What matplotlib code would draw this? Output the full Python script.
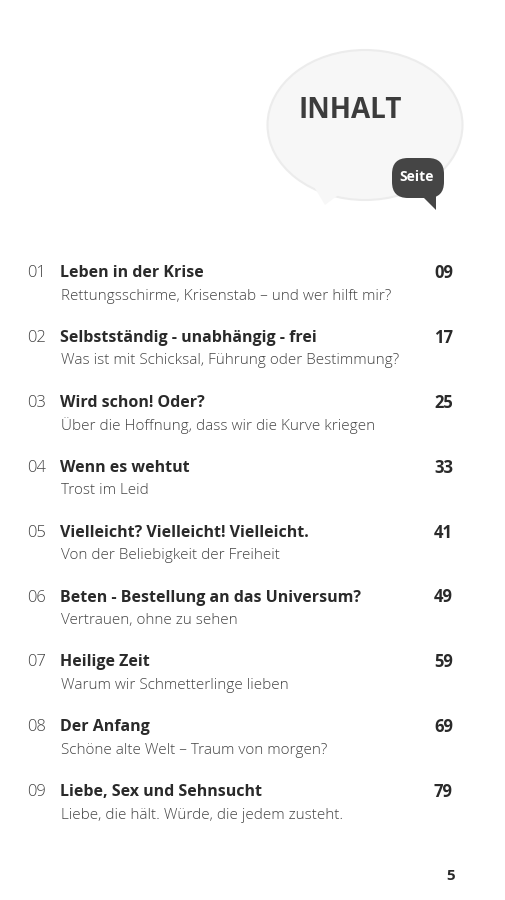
import matplotlib.pyplot as plt
from matplotlib.patches import FancyBboxPatch, Polygon, Ellipse

plt.rcParams['font.family'] = ['Open Sans', 'DejaVu Sans']

nums = ["01", "02", "03", "04", "05", "06", "07", "08", "09"]
titles = ["Leben in der Krise", "Selbstständig - unabhängig - frei", "Wird schon! Oder?",
          "Wenn es wehtut", "Vielleicht? Vielleicht! Vielleicht.",
          "Beten - Bestellung an das Universum?", "Heilige Zeit", "Der Anfang",
          "Liebe, Sex und Sehnsucht"]
subtitles = ["Rettungsschirme, Krisenstab – und wer hilft mir?",
             "Was ist mit Schicksal, Führung oder Bestimmung?",
             "Über die Hoffnung, dass wir die Kurve kriegen",
             "Trost im Leid", "Von der Beliebigkeit der Freiheit",
             "Vertrauen, ohne zu sehen", "Warum wir Schmetterlinge lieben",
             "Schöne alte Welt – Traum von morgen?",
             "Liebe, die hält. Würde, die jedem zusteht."]
pages = ["09", "17", "25", "33", "41", "49", "59", "69", "79"]

fig = plt.figure(figsize=(5.06, 9), dpi=100)
ax = fig.add_axes([0, 0, 1, 1])
ax.set_xlim(0, 506)
ax.set_ylim(900, 0)
ax.axis('off')

# light sketched bubble
ax.add_patch(Ellipse((365, 125), 195, 150, facecolor='#f7f7f7', edgecolor='#ececec', lw=1.5))
ax.add_patch(Polygon([[310, 180], [325, 205], [345, 190]], facecolor='#f7f7f7', edgecolor='none'))
ax.text(350, 110, "INHALT", fontsize=20, fontweight='bold', color='#3c3c3c',
        ha='center', va='center')

# dark "Seite" bubble
ax.add_patch(FancyBboxPatch((392, 158), 52, 40, boxstyle="round,pad=0,rounding_size=16",
                            facecolor='#454545', edgecolor='none'))
ax.add_patch(Polygon([[422, 196], [436, 210], [436, 194]], facecolor='#454545', edgecolor='none'))
ax.text(417, 177, "Seite", fontsize=10, fontweight='bold', color='white', ha='center', va='center')

y0, dy = 273, 64.9
for i in range(len(nums)):
    y = y0 + i * dy
    ax.text(27, y, nums[i], fontsize=12, color='#444444', fontweight='light', va='center')
    ax.text(60, y, titles[i], fontsize=11.5, color='#2a2a2a', fontweight='bold', va='center')
    ax.text(453, y, pages[i], fontsize=12, color='#2a2a2a', fontweight='bold', va='center', ha='right')
    ax.text(61, y + 23, subtitles[i], fontsize=11, color='#444444', fontweight='light', va='center')

ax.text(455, 876, "5", fontsize=11, fontweight='bold', color='#2a2a2a', ha='right', va='center')

fig.savefig("out.png", dpi=100)
